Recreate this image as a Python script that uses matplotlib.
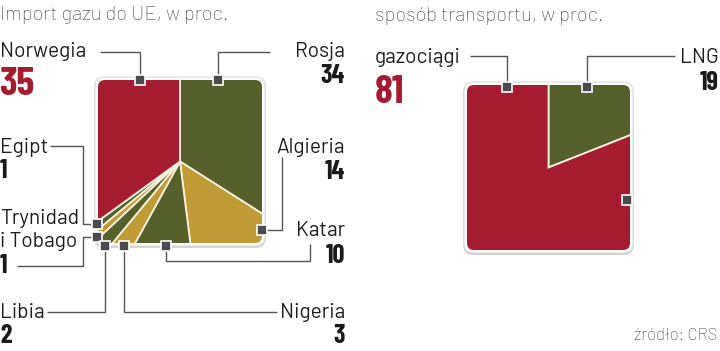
import matplotlib.pyplot as plt
from matplotlib.patches import FancyBboxPatch

FONT = ['Barlow', 'Barlow Semi Condensed', 'DejaVu Sans']
FONT_NUM = ['Barlow Condensed', 'Fira Sans Condensed', 'DejaVu Sans']
plt.rcParams['font.family'] = FONT

# dane
kraje = ['Rosja', 'Algieria', 'Katar', 'Nigeria', 'Libia', 'Trynidad i Tobago', 'Egipt', 'Norwegia']
udzialy = [34, 14, 10, 3, 2, 1, 1, 35]
transport = ['LNG', 'gazociągi']
transport_udzialy = [19, 81]

RED = '#a51c30'
OLIVE = '#56602a'
GOLD = '#c19b35'
kolory_kraje = [OLIVE, GOLD, OLIVE, GOLD, OLIVE, GOLD, OLIVE, RED]
kolory_transport = [OLIVE, RED]

LINE = '#555555'
MARK = '#4a4b50'
W, H = 720, 351

fig = plt.figure(figsize=(7.2, 3.51), dpi=100)
ax = fig.add_axes([0, 0, 1, 1])


def kwadrat(x0, y0, w, h, wartosci, kolory):
    cien = FancyBboxPatch((x0 - 0.5, y0 + 1), w + 1, h + 1,
                          boxstyle='round,pad=3,rounding_size=9',
                          facecolor='#d6d6d6', edgecolor='none', zorder=1)
    ramka = FancyBboxPatch((x0, y0), w, h,
                           boxstyle='round,pad=3,rounding_size=9',
                           facecolor='white', edgecolor='#cfcfcf', lw=0.6, zorder=2)
    klip = FancyBboxPatch((x0, y0), w, h,
                          boxstyle='round,pad=0,rounding_size=7',
                          facecolor='none', edgecolor='none', zorder=3)
    ax.add_patch(cien)
    ax.add_patch(ramka)
    ax.add_patch(klip)
    srodek = (x0 + w / 2, y0 + h / 2)
    # pie rysuje kliny bez przycinania - trzeba wlaczyc recznie
    wedges, _ = ax.pie(wartosci, colors=kolory, startangle=-90, counterclock=True,
                       center=srodek, radius=w * 1.2,
                       wedgeprops=dict(edgecolor='#f6f1de', linewidth=1.3))
    for wdg in wedges:
        wdg.set_zorder(4)
        wdg.set_clip_on(True)
        wdg.set_clip_path(klip)


kwadrat(98, 80, 164, 163, udzialy, kolory_kraje)
kwadrat(467, 85, 163, 165, transport_udzialy, kolory_transport)


def linia(xs, ys):
    ax.plot(xs, ys, color=LINE, lw=1, zorder=5, solid_capstyle='butt')


def znacznik(x, y):
    ax.plot([x], [y], marker='s', ms=7.2, mfc=MARK, mec='white', mew=1.2, zorder=6)


# linie odniesienia - lewy
linia([100, 140, 140], [52, 52, 80])          # Norwegia
linia([270, 218, 218], [52, 52, 80])          # Rosja
linia([50, 83, 83, 97], [146, 146, 224, 224])  # Egipt
linia([17, 83, 83, 97], [266, 266, 237, 237])  # Trynidad
linia([47, 105, 105], [312, 312, 246])        # Libia
linia([277, 124, 124], [312, 312, 246])       # Nigeria
linia([166, 166, 310, 310], [246, 261, 261, 244])  # Katar
linia([262, 282, 282], [230, 230, 157])       # Algieria
# prawy
linia([470, 507, 507], [56, 56, 87])          # gazociagi
linia([675, 587, 587], [56, 56, 87])          # LNG

for (mx, my) in [(140, 80), (218, 80), (97, 224), (97, 237), (105, 246),
                 (124, 246), (166, 246), (262, 230), (507, 87), (587, 87), (627, 200)]:
    znacznik(mx, my)

TXT = '#1e1e1e'
lab = dict(fontsize=15, color=TXT, va='baseline', zorder=7)
num = dict(fontsize=19, color='#1a1a1a', fontweight='bold', va='baseline', family=FONT_NUM, zorder=7)
big = dict(fontsize=29, color=RED, fontweight='bold', va='baseline', family=FONT_NUM, zorder=7)
tyt = dict(fontsize=14.5, color='#404040', fontweight='light', va='baseline', zorder=7)

ax.text(0, 20, 'Import gazu do UE, w proc.', **tyt)
ax.text(375, 21, 'sposób transportu, w proc.', **tyt)

ax.text(0, 57, kraje[7], ha='left', **lab)
ax.text(-1, 95, str(udzialy[7]), ha='left', **big)
ax.text(345, 57, kraje[0], ha='right', **lab)
ax.text(345, 83, str(udzialy[0]), ha='right', **num)
ax.text(0, 153, kraje[6], ha='left', **lab)
ax.text(0, 178, str(udzialy[6]), ha='left', **num)
ax.text(0, 224, 'Trynidad', ha='left', **lab)
ax.text(0, 247, 'i Tobago', ha='left', **lab)
ax.text(0, 273, str(udzialy[5]), ha='left', **num)
ax.text(0, 318, kraje[4], ha='left', **lab)
ax.text(0, 343, str(udzialy[4]), ha='left', **num)
ax.text(345, 153, kraje[1], ha='right', **lab)
ax.text(345, 179, str(udzialy[1]), ha='right', **num)
ax.text(345, 236, kraje[2], ha='right', **lab)
ax.text(345, 263, str(udzialy[2]), ha='right', **num)
ax.text(345, 318, kraje[3], ha='right', **lab)
ax.text(345, 343, str(udzialy[3]), ha='right', **num)

ax.text(375, 63, transport[1], ha='left', **lab)
ax.text(375, 103, str(transport_udzialy[1]), ha='left', **big)
ax.text(719, 63, transport[0], ha='right', **lab)
ax.text(719, 90, str(transport_udzialy[0]), ha='right', **num)

ax.text(717, 340, 'źródło: CRS', fontsize=12, color='#404040', fontweight='light',
        ha='right', va='baseline', zorder=7)

ax.set_xlim(0, W)
ax.set_ylim(H, 0)
ax.set_aspect('auto')
ax.axis('off')

fig.savefig('out.png', dpi=100)
